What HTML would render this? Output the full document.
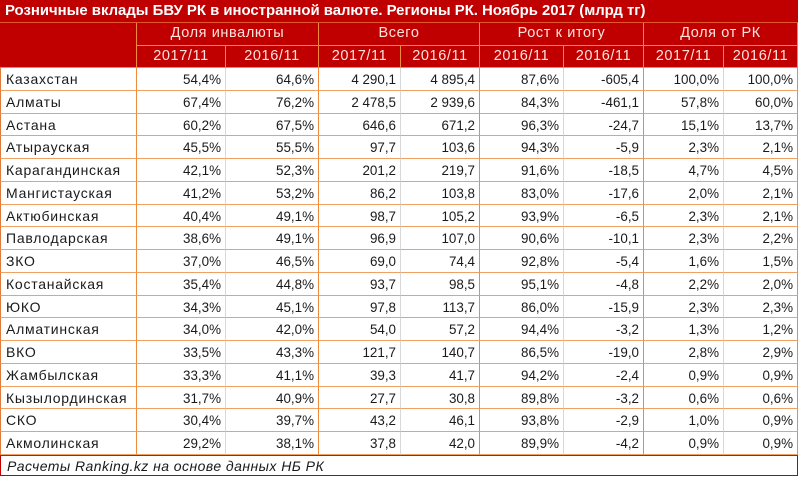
<!DOCTYPE html>
<html><head><meta charset="utf-8">
<style>
html,body{margin:0;padding:0;background:#fff;}
body{width:800px;height:477px;overflow:hidden;position:relative;font-family:"Liberation Sans","DejaVu Sans",sans-serif;}
.g{position:absolute;left:0;top:0;width:798px;display:grid;
grid-template-columns:137px 89px 93px 82px 79px 84px 80px 80px 74px;
grid-template-rows:23px 22.5px 22.5px repeat(17,22.75px) 21px;}
.g>div{box-sizing:border-box;white-space:nowrap;overflow:hidden;}
.t{grid-column:1/10;background:#c00000;color:#fff;font-weight:bold;font-size:14.9px;line-height:23px;padding-left:5px;border-bottom:1px solid #e2572c;}
.h{background:#c00000;color:#fde4df;font-size:14.5px;text-align:center;letter-spacing:0.6px;border-right:1px solid #f08a3c;border-bottom:1px solid #f08a3c;line-height:21px;}
.h0{grid-row:2/4;background:#c00000;border-right:1px solid #f08a3c;border-bottom:1px solid #f08a3c;}
.s2{grid-column:span 2;}
.n{font-size:14px;letter-spacing:0.75px;color:#1a1a1a;padding-left:5px;line-height:23px;border-bottom:1px solid #f0a060;border-right:1px solid #f08a3c;border-left:1px solid #e07a3a;}
.v{font-size:13.4px;color:#1a1a1a;text-align:right;padding-right:4px;line-height:23px;border-bottom:1px solid #f0a060;}
.o{border-right:1px solid #f08a3c;}
.y{border-right:1px solid #d8d8d8;}
.f{grid-column:1/10;font-style:italic;font-size:14px;letter-spacing:0.45px;color:#1a1a1a;padding-left:6px;line-height:21px;border:1px solid #c00000;border-top:1px solid #c8102e;}
</style></head><body>
<div class="g">
<div class="t">Розничные вклады БВУ РК в иностранной валюте. Регионы РК. Ноябрь 2017 (млрд тг)</div>
<div class="h0"></div>
<div class="h s2">Доля инвалюты</div>
<div class="h s2">Всего</div>
<div class="h s2">Рост к итогу</div>
<div class="h s2">Доля от РК</div>
<div class="h">2017/11</div><div class="h">2016/11</div>
<div class="h">2017/11</div><div class="h">2016/11</div>
<div class="h">2016/11</div><div class="h">2016/11</div>
<div class="h">2017/11</div><div class="h">2016/11</div>

<div class="n">Казахстан</div><div class="v y">54,4%</div><div class="v o">64,6%</div><div class="v y">4 290,1</div><div class="v o">4 895,4</div><div class="v y">87,6%</div><div class="v o">-605,4</div><div class="v y">100,0%</div><div class="v o">100,0%</div>
<div class="n">Алматы</div><div class="v y">67,4%</div><div class="v o">76,2%</div><div class="v y">2 478,5</div><div class="v o">2 939,6</div><div class="v y">84,3%</div><div class="v o">-461,1</div><div class="v y">57,8%</div><div class="v o">60,0%</div>
<div class="n">Астана</div><div class="v y">60,2%</div><div class="v o">67,5%</div><div class="v y">646,6</div><div class="v o">671,2</div><div class="v y">96,3%</div><div class="v o">-24,7</div><div class="v y">15,1%</div><div class="v o">13,7%</div>
<div class="n">Атырауская</div><div class="v y">45,5%</div><div class="v o">55,5%</div><div class="v y">97,7</div><div class="v o">103,6</div><div class="v y">94,3%</div><div class="v o">-5,9</div><div class="v y">2,3%</div><div class="v o">2,1%</div>
<div class="n">Карагандинская</div><div class="v y">42,1%</div><div class="v o">52,3%</div><div class="v y">201,2</div><div class="v o">219,7</div><div class="v y">91,6%</div><div class="v o">-18,5</div><div class="v y">4,7%</div><div class="v o">4,5%</div>
<div class="n">Мангистауская</div><div class="v y">41,2%</div><div class="v o">53,2%</div><div class="v y">86,2</div><div class="v o">103,8</div><div class="v y">83,0%</div><div class="v o">-17,6</div><div class="v y">2,0%</div><div class="v o">2,1%</div>
<div class="n">Актюбинская</div><div class="v y">40,4%</div><div class="v o">49,1%</div><div class="v y">98,7</div><div class="v o">105,2</div><div class="v y">93,9%</div><div class="v o">-6,5</div><div class="v y">2,3%</div><div class="v o">2,1%</div>
<div class="n">Павлодарская</div><div class="v y">38,6%</div><div class="v o">49,1%</div><div class="v y">96,9</div><div class="v o">107,0</div><div class="v y">90,6%</div><div class="v o">-10,1</div><div class="v y">2,3%</div><div class="v o">2,2%</div>
<div class="n">ЗКО</div><div class="v y">37,0%</div><div class="v o">46,5%</div><div class="v y">69,0</div><div class="v o">74,4</div><div class="v y">92,8%</div><div class="v o">-5,4</div><div class="v y">1,6%</div><div class="v o">1,5%</div>
<div class="n">Костанайская</div><div class="v y">35,4%</div><div class="v o">44,8%</div><div class="v y">93,7</div><div class="v o">98,5</div><div class="v y">95,1%</div><div class="v o">-4,8</div><div class="v y">2,2%</div><div class="v o">2,0%</div>
<div class="n">ЮКО</div><div class="v y">34,3%</div><div class="v o">45,1%</div><div class="v y">97,8</div><div class="v o">113,7</div><div class="v y">86,0%</div><div class="v o">-15,9</div><div class="v y">2,3%</div><div class="v o">2,3%</div>
<div class="n">Алматинская</div><div class="v y">34,0%</div><div class="v o">42,0%</div><div class="v y">54,0</div><div class="v o">57,2</div><div class="v y">94,4%</div><div class="v o">-3,2</div><div class="v y">1,3%</div><div class="v o">1,2%</div>
<div class="n">ВКО</div><div class="v y">33,5%</div><div class="v o">43,3%</div><div class="v y">121,7</div><div class="v o">140,7</div><div class="v y">86,5%</div><div class="v o">-19,0</div><div class="v y">2,8%</div><div class="v o">2,9%</div>
<div class="n">Жамбылская</div><div class="v y">33,3%</div><div class="v o">41,1%</div><div class="v y">39,3</div><div class="v o">41,7</div><div class="v y">94,2%</div><div class="v o">-2,4</div><div class="v y">0,9%</div><div class="v o">0,9%</div>
<div class="n">Кызылординская</div><div class="v y">31,7%</div><div class="v o">40,9%</div><div class="v y">27,7</div><div class="v o">30,8</div><div class="v y">89,8%</div><div class="v o">-3,2</div><div class="v y">0,6%</div><div class="v o">0,6%</div>
<div class="n">СКО</div><div class="v y">30,4%</div><div class="v o">39,7%</div><div class="v y">43,2</div><div class="v o">46,1</div><div class="v y">93,8%</div><div class="v o">-2,9</div><div class="v y">1,0%</div><div class="v o">0,9%</div>
<div class="n">Акмолинская</div><div class="v y">29,2%</div><div class="v o">38,1%</div><div class="v y">37,8</div><div class="v o">42,0</div><div class="v y">89,9%</div><div class="v o">-4,2</div><div class="v y">0,9%</div><div class="v o">0,9%</div>

<div class="f">Расчеты Ranking.kz на основе данных НБ РК</div>
</div>
</body></html>
